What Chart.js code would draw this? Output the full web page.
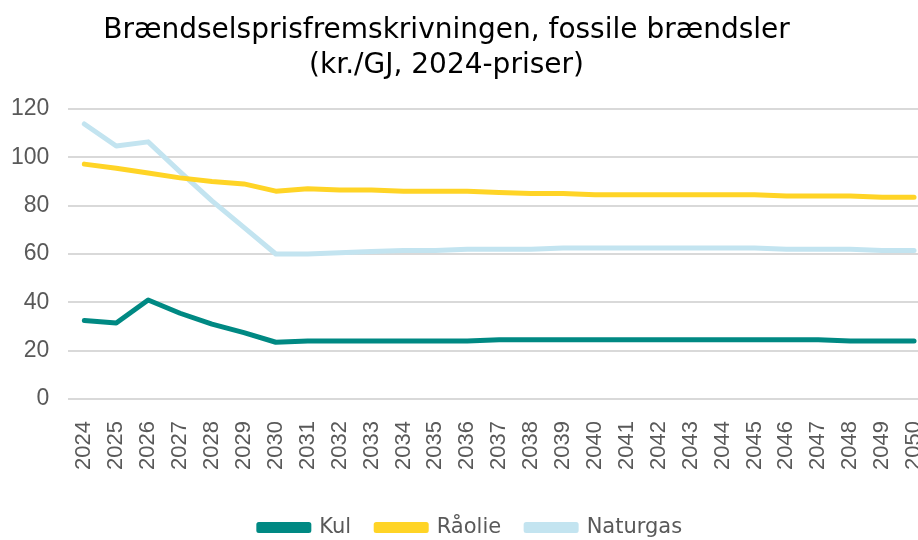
<!DOCTYPE html>
<html>
<head>
<meta charset="utf-8">
<script src="https://cdn.jsdelivr.net/npm/chart.js@4/dist/chart.umd.min.js"></script>
<style>
  html, body { margin: 0; padding: 0; background: #fff; }
  #crop { width: 918px; height: 540px; overflow: hidden; position: relative; }
  #wrap { width: 930px; height: 548px; position: absolute; left: 0; top: 0; }
</style>
</head>
<body>
<div id="crop">
  <div id="wrap"><canvas id="chart"></canvas></div>
</div>
<script>
// years on the category axis
let years = ["2024", "2025", "2026", "2027", "2028", "2029", "2030", "2031", "2032", "2033",
  "2034", "2035", "2036", "2037", "2038", "2039", "2040", "2041", "2042", "2043",
  "2044", "2045", "2046", "2047", "2048", "2049", "2050"];

// kr./GJ
let kul = [32.5, 31.5, 41, 35.5, 31, 27.5, 23.5, 24, 24, 24,
  24, 24, 24, 24.5, 24.5, 24.5, 24.5, 24.5, 24.5, 24.5,
  24.5, 24.5, 24.5, 24.5, 24, 24, 24];
let raolie = [97.2, 95.5, 93.5, 91.5, 90, 89, 86, 87, 86.5, 86.5,
  86, 86, 86, 85.5, 85, 85, 84.5, 84.5, 84.5, 84.5,
  84.5, 84.5, 84, 84, 84, 83.5, 83.5];
let naturgas = [113.8, 104.7, 106.4, 94, 82, 71, 60, 60, 60.5, 61,
  61.5, 61.5, 62, 62, 62, 62.5, 62.5, 62.5, 62.5, 62.5,
  62.5, 62.5, 62, 62, 62, 61.5, 61.5];

let yTicks = [0, 20, 40, 60, 80, 100, 120];

let titleLines = ["Brændselsprisfremskrivningen, fossile brændsler", "(kr./GJ, 2024-priser)"];

let axisFont = "Liberation Sans, Arial, sans-serif";
let wideFont = "DejaVu Sans, Verdana, sans-serif";

function makeSeries(label, data, color) {
    return {
        label: label,
        data: data,
        borderColor: color,
        backgroundColor: color,
        borderWidth: 5,
        borderCapStyle: "round",
        borderJoinStyle: "round",
        pointRadius: 0,
        tension: 0,
        fill: false
    };
}

// the title in the original sits a bit left of the middle
let titleNudge = {
    id: "titleNudge",
    afterLayout: function (chart) {
        if (chart.titleBlock) {
            chart.titleBlock.right -= 48;
        }
    }
};

let ctx = document.getElementById("chart").getContext("2d");
let chart = new Chart(ctx, {
    type: "line",
    data: {
        labels: years,
        datasets: [
            makeSeries("Kul", kul, "rgb(0,137,131)"),
            makeSeries("Råolie", raolie, "rgb(255,212,38)"),
            makeSeries("Naturgas", naturgas, "rgb(195,228,240)")
        ]
    },
    plugins: [titleNudge],
    options: {
        responsive: true,
        maintainAspectRatio: false,
        animation: false,
        layout: { padding: { left: 11, top: 0, right: 0, bottom: 0 } },
        plugins: {
            title: {
                display: true,
                text: titleLines,
                color: "#000",
                font: { family: wideFont, size: 28, weight: "normal", lineHeight: 1.25 },
                padding: { top: 13, bottom: 26 }
            },
            legend: {
                position: "bottom",
                labels: {
                    color: "#595959",
                    font: { family: wideFont, size: 21 },
                    boxWidth: 50,
                    boxHeight: 6,
                    padding: 25
                }
            },
            tooltip: { enabled: false }
        },
        scales: {
            x: {
                offset: true,
                grid: { display: false },
                border: { display: false },
                afterFit: function (axis) {
                    // no extra side room for the rotated end labels
                    axis.paddingLeft = 0;
                    axis.paddingRight = 0;
                    axis.height += 8;
                },
                ticks: {
                    color: "#595959",
                    font: { family: axisFont, size: 22 },
                    minRotation: 90,
                    maxRotation: 90,
                    autoSkip: false,
                    padding: 14
                }
            },
            y: {
                min: 0,
                max: 120,
                afterBuildTicks: function (axis) {
                    axis.ticks = yTicks.map(v => ({ value: v }));
                },
                afterFit: function (axis) {
                    // chart.js counts the tick padding twice
                    axis.width -= 19;
                },
                grid: { color: "#d9d9d9", lineWidth: 2, drawTicks: false },
                border: { display: false },
                ticks: {
                    color: "#595959",
                    font: { family: axisFont, size: 23 },
                    padding: 19
                }
            }
        }
    }
});
</script>
</body>
</html>
